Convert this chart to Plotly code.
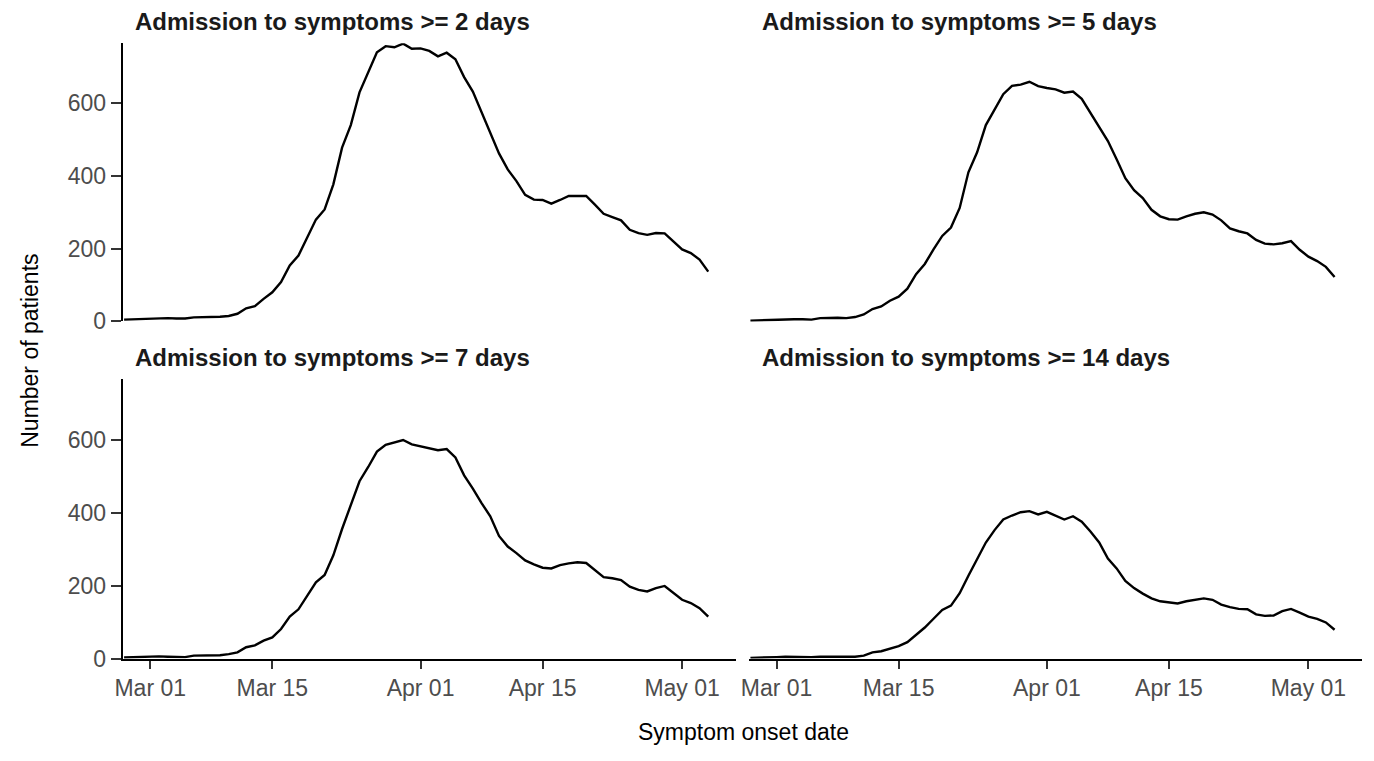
import pandas as pd
import plotly.graph_objects as go

# symptom onset dates, one value per day
dates = pd.date_range("2020-02-27", "2020-05-04", freq="D")

panel_titles = [
    "Admission to symptoms >= 2 days",
    "Admission to symptoms >= 5 days",
    "Admission to symptoms >= 7 days",
    "Admission to symptoms >= 14 days",
]

patients_2d = [
    5, 6, 7, 8, 10, 9, 8, 8, 11, 11, 11, 13, 15, 21, 36, 42, 62, 80, 108, 154,
    181, 231, 280, 308, 377, 478, 540, 630, 686, 740, 757, 754, 764, 750, 751,
    744, 729, 739, 721, 672, 632, 575, 522, 462, 418, 386, 348, 335, 334, 324,
    334, 345, 345, 345, 321, 296, 287, 278, 252, 243, 238, 243, 242, 219, 198,
    188, 170, 137,
]
patients_5d = [
    2, 3, 3, 4, 7, 6, 6, 5, 9, 10, 10, 9, 12, 19, 34, 41, 57, 68, 90, 130,
    158, 198, 235, 258, 312, 410, 465, 540, 583, 625, 648, 651, 659, 647, 642,
    638, 629, 632, 612, 573, 537, 496, 446, 394, 361, 339, 307, 289, 281, 280,
    289, 296, 300, 294, 278, 256, 248, 242, 224, 214, 212, 215, 221, 197, 178,
    166, 150, 122,
]
patients_7d = [
    3, 4, 5, 5, 6, 5, 5, 4, 8, 8, 7, 9, 12, 17, 31, 36, 49, 58, 81, 115,
    135, 173, 209, 229, 283, 355, 418, 486, 525, 567, 586, 592, 599, 587, 582,
    577, 571, 574, 551, 502, 466, 426, 390, 336, 307, 289, 269, 258, 249, 247,
    256, 261, 264, 262, 242, 223, 220, 215, 197, 188, 184, 193, 199, 179, 161,
    152, 138, 115,
]
patients_14d = [
    2, 2, 3, 4, 5, 4, 5, 4, 5, 5, 5, 4, 5, 8, 17, 20, 27, 34, 45, 65,
    85, 109, 133, 145, 179, 227, 274, 318, 352, 381, 392, 401, 404, 395, 402,
    392, 381, 390, 375, 348, 318, 274, 247, 213, 193, 178, 165, 157, 154, 151,
    157, 161, 165, 161, 148, 141, 136, 135, 121, 117, 118, 130, 136, 126, 115,
    109, 99, 79,
]

x_tickvals = ["2020-03-01", "2020-03-15", "2020-04-01", "2020-04-15", "2020-05-01"]
y_tickvals = [0, 200, 400, 600]

W, H = 1374, 761
FONT = "Liberation Sans, Arial, Helvetica, sans-serif"

# panel boxes in pixels: (left, right, top, bottom)
boxes = [
    (115.5, 732, 44, 327),
    (745.5, 1362, 44, 327),
    (115.5, 732, 386, 670),
    (745.5, 1362, 386, 670),
]
series = [patients_2d, patients_5d, patients_7d, patients_14d]

fig = go.Figure()
layout = {}
annotations = []

for i, (vals, (l, r, t, b)) in enumerate(zip(series, boxes)):
    n = "" if i == 0 else str(i + 1)
    fig.add_trace(
        go.Scatter(
            x=dates,
            y=vals,
            mode="lines",
            line=dict(color="black", width=2.4),
            xaxis="x" + n,
            yaxis="y" + n,
            showlegend=False,
        )
    )
    left_col = i in (0, 2)
    bottom_row = i in (2, 3)
    layout["xaxis" + n] = dict(
        domain=[l / W, r / W],
        range=["2020-02-26 20:30", "2020-05-07 03:40"],
        anchor="y" + n,
        showgrid=False,
        zeroline=False,
        showline=bottom_row,
        linecolor="black",
        linewidth=2.2,
        ticks="outside" if bottom_row else "",
        ticklen=8,
        tickwidth=2,
        tickcolor="#333333",
        showticklabels=bottom_row,
        tickvals=x_tickvals,
        tickformat="%b %d",
        tickfont=dict(family=FONT, size=23, color="#4d4d4d"),
    )
    layout["yaxis" + n] = dict(
        domain=[1 - b / H, 1 - t / H],
        range=[0, 765],
        anchor="x" + n,
        showgrid=False,
        zeroline=False,
        showline=left_col,
        linecolor="black",
        linewidth=2.2,
        ticks="outside" if left_col else "",
        ticklen=10,
        tickwidth=2,
        tickcolor="#333333",
        showticklabels=left_col,
        tickvals=y_tickvals,
        tickfont=dict(family=FONT, size=23, color="#4d4d4d"),
    )
    annotations.append(
        dict(
            text="<b>" + panel_titles[i] + "</b>",
            xref="paper",
            yref="paper",
            x=(l + 10.5) / W,
            y=1 - (t - 22.5) / H,
            xanchor="left",
            yanchor="middle",
            showarrow=False,
            font=dict(family=FONT, size=24, color="#1a1a1a"),
        )
    )

annotations.append(
    dict(
        text="Symptom onset date",
        xref="paper",
        yref="paper",
        x=740 / W,
        y=1 - 745 / H,
        xanchor="center",
        yanchor="middle",
        showarrow=False,
        font=dict(family=FONT, size=23, color="black"),
    )
)
annotations.append(
    dict(
        text="Number of patients",
        xref="paper",
        yref="paper",
        x=22 / W,
        y=1 - 357 / H,
        xanchor="center",
        yanchor="middle",
        textangle=-90,
        showarrow=False,
        font=dict(family=FONT, size=23, color="black"),
    )
)

fig.update_layout(
    **layout,
    annotations=annotations,
    autosize=True,
    margin=dict(l=0, r=0, t=0, b=0),
    plot_bgcolor="white",
    paper_bgcolor="white",
    font=dict(family=FONT),
)

fig.write_html(
    "out.html",
    default_width="100vw",
    default_height="100vh",
    config={"displayModeBar": False},
    post_script=(
        "document.documentElement.style.overflow='hidden';"
        "document.body.style.margin='0';"
        "document.body.style.overflow='hidden';"
        "Plotly.Plots.resize(document.getElementById('{plot_id}'));"
    ),
)
